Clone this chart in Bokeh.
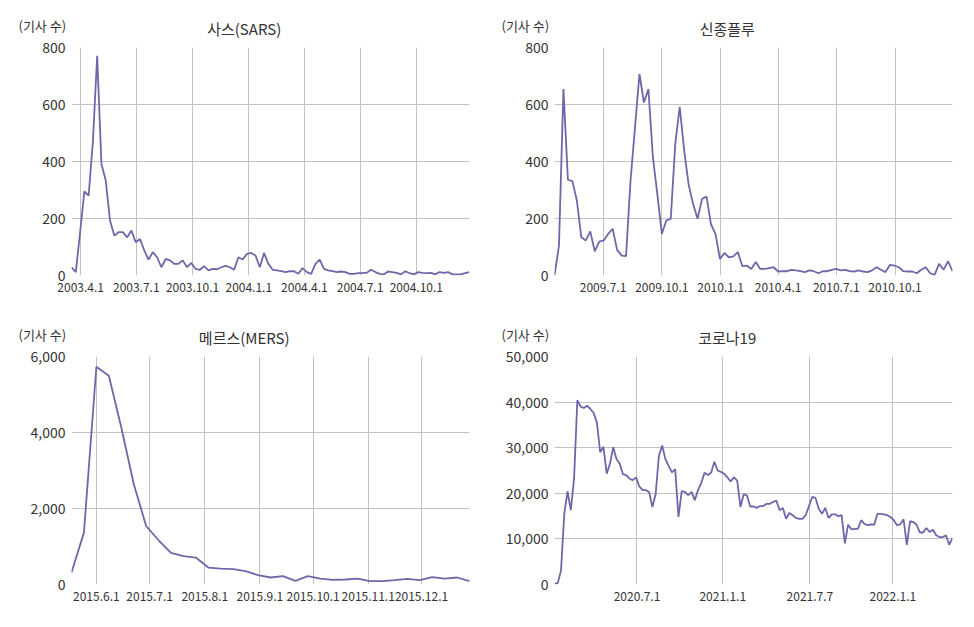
import pandas as pd
from bokeh.plotting import figure
from bokeh.layouts import column, row
from bokeh.models import (FixedTicker, Range1d, NumeralTickFormatter, LinearAxis,
                          Title)
from bokeh.embed import file_html
from bokeh.resources import INLINE

FONT = "Noto Sans CJK KR"
LINE = "#6f67aa"
GRID = "#c2c2c2"
TXT = "#333333"
UNIT = "(기사 수)"

# ---------------- data ----------------
sars_title = "사스(SARS)"
sars_start = "2003-03-17"
sars_values = [29, 12, 150, 295, 280, 470, 771, 391, 333, 193,
               140, 152, 152, 134, 158, 117, 128, 88, 56, 82,
               64, 29, 58, 53, 41, 41, 53, 29, 44, 23,
               20, 33, 18, 23, 22, 29, 34, 29, 20, 64,
               56, 76, 79, 70, 29, 79, 41, 20, 18, 15,
               12, 15, 15, 6, 26, 12, 6, 41, 56, 23,
               18, 15, 12, 14, 12, 6, 6, 8, 8, 10,
               20, 12, 6, 4, 14, 12, 9, 4, 15, 8,
               4, 12, 9, 8, 9, 4, 12, 9, 12, 4,
               4, 4, 8, 12]
sars_ticks = ["2003-04-01", "2003-07-01", "2003-10-01", "2004-01-01",
              "2004-04-01", "2004-07-01", "2004-10-01"]
sars_tick_labels = ["2003.4.1", "2003.7.1", "2003.10.1", "2004.1.1",
                    "2004.4.1", "2004.7.1", "2004.10.1"]
sars_yticks = [0, 200, 400, 600, 800]

flu_title = "신종플루"
flu_start = "2009-04-16"
flu_values = [0, 105, 654, 336, 331, 263, 134, 123, 155, 85,
              119, 123, 146, 164, 90, 70, 68, 333, 520, 707,
              607, 654, 415, 285, 146, 193, 199, 461, 592, 438,
              318, 251, 199, 269, 277, 179, 146, 58, 79, 64,
              67, 82, 33, 35, 23, 47, 23, 23, 26, 29,
              14, 15, 15, 20, 18, 15, 12, 18, 15, 8,
              15, 15, 20, 23, 18, 20, 15, 14, 18, 14,
              12, 18, 29, 20, 12, 37, 35, 29, 15, 14,
              14, 8, 20, 29, 8, 2, 41, 20, 50, 15]
flu_ticks = ["2009-07-01", "2009-10-01", "2010-01-01", "2010-04-01",
             "2010-07-01", "2010-10-01"]
flu_tick_labels = ["2009.7.1", "2009.10.1", "2010.1.1", "2010.4.1",
                   "2010.7.1", "2010.10.1"]
flu_yticks = [0, 200, 400, 600, 800]

mers_title = "메르스(MERS)"
mers_start = "2015-05-18"
mers_values = [315, 1365, 5730, 5494, 4138, 2650, 1540, 1164, 831, 744,
               709, 446, 420, 402, 350, 245, 184, 219, 96, 219,
               157, 122, 131, 157, 87, 87, 114, 149, 114, 192,
               157, 184, 87]
mers_ticks = ["2015-06-01", "2015-07-01", "2015-08-01", "2015-09-01",
              "2015-10-01", "2015-11-01", "2015-12-01"]
mers_tick_labels = ["2015.6.1", "2015.7.1", "2015.8.1", "2015.9.1",
                    "2015.10.1", "2015.11.1", "2015.12.1"]
mers_yticks = [0, 2000, 4000, 6000]

covid_title = "코로나19"
covid_start = "2020-01-06"
covid_values = [200, 300, 3100, 15500, 20400, 16300, 23200, 40400, 39000, 38700,
                39200, 38500, 37600, 35500, 29000, 30200, 24300, 26500, 30100, 27500,
                26500, 24200, 24000, 23200, 22900, 23500, 21500, 20700, 20700, 20300,
                17000, 19800, 28200, 30500, 27500, 26000, 24600, 25300, 14800, 20500,
                20300, 19600, 20300, 18500, 20700, 22300, 24500, 24000, 24500, 26900,
                25000, 24700,
                24300, 23500, 22600, 23500, 22800, 17000, 19800, 19500, 17100, 17100,
                16800, 17200, 17200, 17700, 17700, 18100, 18400, 16300, 16800, 14400,
                15700, 15200, 14600, 14400, 14400, 15200, 17200, 19200, 19000, 16600,
                15500, 16800, 14600, 15400, 15400, 15000, 15200, 9000, 13100, 12100,
                12200, 12200, 14100, 13300, 13000, 13200, 13100, 15500, 15500, 15400,
                15200, 14800, 14100, 13000, 13200, 14300, 8700, 13900, 13700, 13100,
                11400, 11400, 12400, 11500, 12000, 10800, 10400, 10400, 10800, 8700,
                10200]
covid_ticks = ["2020-07-01", "2021-01-01", "2021-07-07", "2022-01-01"]
covid_tick_labels = ["2020.7.1", "2021.1.1", "2021.7.7", "2022.1.1"]
covid_yticks = [0, 10000, 20000, 30000, 40000, 50000]


def ms(t):
    return float(pd.Timestamp(t).value // 10**6)


def plain(ax, size):
    ax.axis_line_color = None
    ax.major_tick_line_color = None
    ax.minor_tick_line_color = None
    ax.major_tick_out = 0
    ax.major_tick_in = 0
    ax.minor_tick_out = 0
    ax.major_label_text_font = FONT
    ax.major_label_text_color = TXT
    ax.major_label_text_font_size = size


def panel(title, start, values, ticks, tick_labels, yticks, comma,
          left, right, bottom):
    dates = pd.date_range(start, periods=len(values), freq="7D")
    x0, x1 = ms(dates[0]), ms(dates[-1])
    ymax = yticks[-1]
    p = figure(x_axis_type="datetime", output_backend="svg", toolbar_location=None,
               frame_width=398, frame_height=228,
               min_border_left=left, min_border_right=right,
               min_border_top=47, min_border_bottom=bottom,
               x_range=Range1d(x0, x1), y_range=Range1d(0, ymax),
               title=None)
    p.line(x=dates, y=values, line_color=LINE, line_width=1.8)

    tick_ms = [ms(t) for t in ticks]
    p.xaxis.ticker = FixedTicker(ticks=tick_ms)
    p.xaxis.major_label_overrides = {t: lab for t, lab in zip(tick_ms, tick_labels)}
    p.yaxis.ticker = FixedTicker(ticks=yticks)
    if comma:
        p.yaxis.formatter = NumeralTickFormatter(format="0,0")
    plain(p.xaxis[0], "12px")
    plain(p.yaxis[0], "14px")
    p.xaxis[0].major_label_standoff = 7
    p.yaxis[0].major_label_standoff = 6

    # unit text: a left-aligned title pushed left of the frame
    p.add_layout(Title(text=UNIT, align="left", offset=-53, vertical_align="middle",
                       standoff=24, text_font=FONT, text_font_size="13px",
                       text_font_style="normal", text_color=TXT), "above")
    # chart title: the single label of a hidden axis, pulled down to the same row
    p.extra_x_ranges = {"hdr": Range1d(0, 1)}
    tpos = 0.434
    tax = LinearAxis(x_range_name="hdr", ticker=FixedTicker(ticks=[tpos]),
                     major_label_overrides={tpos: title})
    plain(tax, "15px")
    tax.major_label_standoff = -36
    p.add_layout(tax, "above")

    p.xgrid.grid_line_color = GRID
    p.ygrid.grid_line_color = GRID
    p.xgrid.grid_line_width = 1
    p.ygrid.grid_line_width = 1
    p.outline_line_color = None
    return p


p1 = panel(sars_title, sars_start, sars_values, sars_ticks, sars_tick_labels,
           sars_yticks, False, 71, 18, 34)
p2 = panel(flu_title, flu_start, flu_values, flu_ticks, flu_tick_labels,
           flu_yticks, False, 67, 14, 34)
p3 = panel(mers_title, mers_start, mers_values, mers_ticks, mers_tick_labels,
           mers_yticks, True, 71, 18, 40)
p4 = panel(covid_title, covid_start, covid_values, covid_ticks, covid_tick_labels,
           covid_yticks, True, 67, 14, 40)

layout = column(row(p1, p2), row(p3, p4))
open("out.html", "w").write(file_html(layout, INLINE))
